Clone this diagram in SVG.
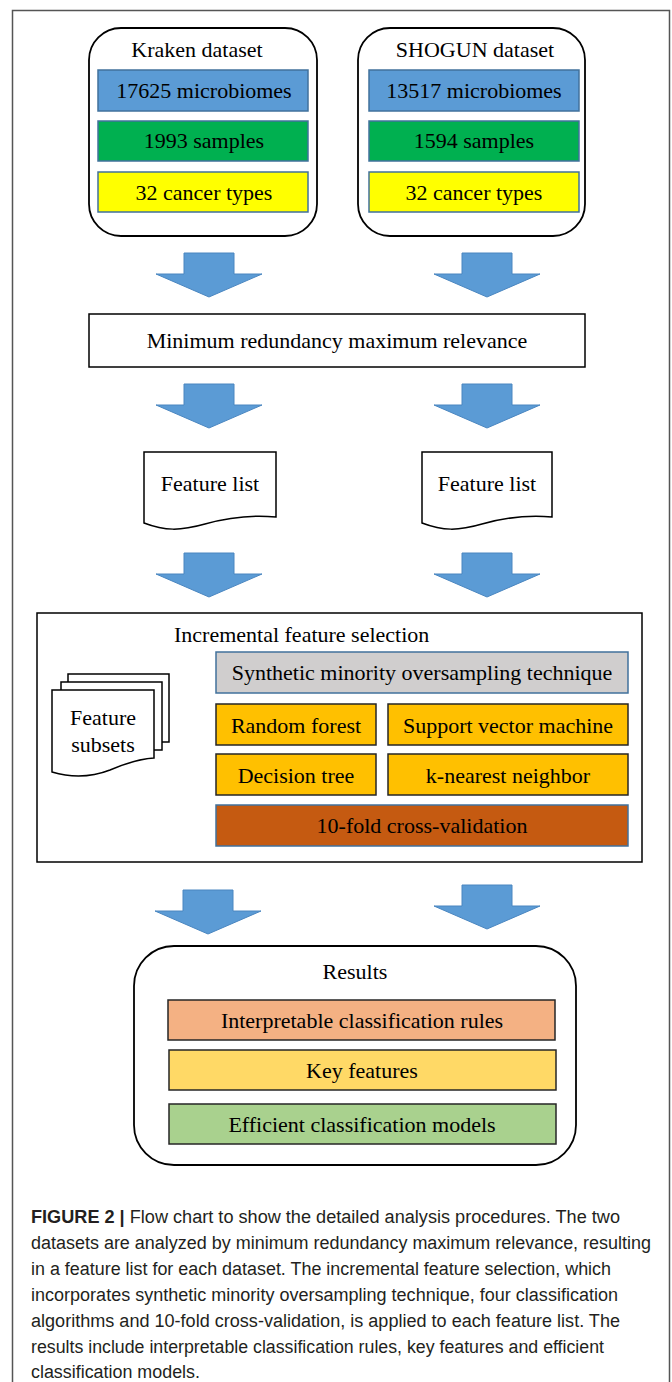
<svg xmlns="http://www.w3.org/2000/svg" width="672" height="1382" viewBox="0 0 672 1382">
<style>
.t{font-family:"Liberation Serif","Times New Roman",serif;font-size:22px;fill:#000;text-anchor:middle}
.ts{font-family:"Liberation Serif","Times New Roman",serif;font-size:22px;fill:#000}
.rb{fill:#fff;stroke:#000;stroke-width:1.8}
.bx{stroke:#41719c;stroke-width:1.5}
.ob{fill:#ffc000;stroke:#262626;stroke-width:1.5}
.rk{stroke:#262626;stroke-width:1.5}
.arr{fill:#5b9bd5;stroke:#4a86c0;stroke-width:1}
.doc{fill:#fff;stroke:#000;stroke-width:1.5}
.cap{font-family:"Liberation Sans",Arial,sans-serif;font-size:18px;fill:#231f20}
</style>
<defs>
<path id="arrow" d="M-25,0 H25 V21 H53 L0,44 L-53,21 H-25 Z"/>
</defs>
<rect width="672" height="1382" fill="#fff"/>
<path d="M12.5,1382 V10.5 H669.5 V1382" fill="none" stroke="#555" stroke-width="1.5"/>

<g id="kraken">
<rect class="rb" x="89" y="28" width="228" height="208" rx="32" ry="32"/>
<text class="t" x="197" y="57">Kraken dataset</text>
<rect class="bx" x="98" y="70" width="210" height="41" fill="#5b9bd5"/>
<text class="t" x="204" y="98">17625 microbiomes</text>
<rect class="bx" x="98" y="121" width="210" height="40" fill="#00b050"/>
<text class="t" x="204" y="148">1993 samples</text>
<rect class="bx" x="98" y="172" width="210" height="40" fill="#ffff00"/>
<text class="t" x="204" y="200">32 cancer types</text>
</g>

<g id="shogun">
<rect class="rb" x="358" y="28" width="227" height="208" rx="32" ry="32"/>
<text class="t" x="475" y="57">SHOGUN dataset</text>
<rect class="bx" x="369" y="70" width="210" height="41" fill="#5b9bd5"/>
<text class="t" x="474" y="98">13517 microbiomes</text>
<rect class="bx" x="369" y="121" width="210" height="40" fill="#00b050"/>
<text class="t" x="474" y="148">1594 samples</text>
<rect class="bx" x="369" y="172" width="210" height="40" fill="#ffff00"/>
<text class="t" x="474" y="200">32 cancer types</text>
</g>

<g id="mrmr">
<rect x="89" y="314" width="496" height="53" fill="#fff" stroke="#000" stroke-width="1.5"/>
<text class="t" x="337" y="348">Minimum redundancy maximum relevance</text>
</g>

<g id="featurelist1">
<path class="doc" d="M144,452 H276 V517 C255,515 230,517 205,524 C180,531 165,531 144,523 Z"/>
<text class="t" x="210" y="491">Feature list</text>
</g>
<g id="featurelist2">
<path class="doc" d="M422,452 H552 V517 C531,515 507,517 482,524 C458,531 443,531 422,523 Z"/>
<text class="t" x="487" y="491">Feature list</text>
</g>

<g id="ifs">
<rect x="37" y="613" width="605" height="249" fill="#fff" stroke="#000" stroke-width="1.5"/>
<text class="ts" x="174" y="642">Incremental feature selection</text>
<rect class="bx" x="216" y="652" width="412" height="41" fill="#d0cece"/>
<text class="t" x="422" y="680">Synthetic minority oversampling technique</text>
<rect class="ob" x="216" y="704" width="160" height="41"/>
<text class="t" x="296" y="733">Random forest</text>
<rect class="ob" x="388" y="704" width="240" height="41"/>
<text class="t" x="508" y="733">Support vector machine</text>
<rect class="ob" x="216" y="754" width="160" height="41"/>
<text class="t" x="296" y="783">Decision tree</text>
<rect class="ob" x="388" y="754" width="240" height="41"/>
<text class="t" x="508" y="783">k-nearest neighbor</text>
<rect class="bx" x="216" y="805" width="412" height="41" fill="#c55a11"/>
<text class="t" x="422" y="833">10-fold cross-validation</text>
</g>

<g id="featuresubsets">
<rect class="doc" x="68" y="674" width="101" height="68"/>
<rect class="doc" x="61" y="682" width="101" height="68"/>
<path class="doc" d="M52,690 H154 V758 C138,759 124,764 110,770 C92,777 72,778 52,772 Z"/>
<text class="t" x="103" y="725">Feature</text>
<text class="t" x="103" y="752">subsets</text>
</g>

<g id="results">
<rect class="rb" x="134" y="946" width="442" height="219" rx="40" ry="40"/>
<text class="t" x="355" y="979">Results</text>
<rect class="rk" x="168" y="1000" width="387" height="40" fill="#f4b183"/>
<text class="t" x="362" y="1028">Interpretable classification rules</text>
<rect class="rk" x="169" y="1050" width="387" height="40" fill="#ffd966"/>
<text class="t" x="362" y="1078">Key features</text>
<rect class="rk" x="169" y="1104" width="387" height="40" fill="#a9d18e"/>
<text class="t" x="362" y="1132">Efficient classification models</text>
</g>

<g id="connectors">
<use href="#arrow" class="arr" transform="translate(209,253)"/>
<use href="#arrow" class="arr" transform="translate(487,253)"/>
<use href="#arrow" class="arr" transform="translate(209,384)"/>
<use href="#arrow" class="arr" transform="translate(487,384)"/>
<use href="#arrow" class="arr" transform="translate(209,553)"/>
<use href="#arrow" class="arr" transform="translate(487,553)"/>
<use href="#arrow" class="arr" transform="translate(208,890)"/>
<use href="#arrow" class="arr" transform="translate(487,885)"/>
</g>

<g id="caption">
<text class="cap" x="31" y="1223" textLength="589" lengthAdjust="spacingAndGlyphs"><tspan font-weight="bold">FIGURE 2 |</tspan> Flow chart to show the detailed analysis procedures. The two</text>
<text class="cap" x="31" y="1249" textLength="620" lengthAdjust="spacingAndGlyphs">datasets are analyzed by minimum redundancy maximum relevance, resulting</text>
<text class="cap" x="31" y="1275" textLength="580" lengthAdjust="spacingAndGlyphs">in a feature list for each dataset. The incremental feature selection, which</text>
<text class="cap" x="31" y="1301" textLength="587" lengthAdjust="spacingAndGlyphs">incorporates synthetic minority oversampling technique, four classification</text>
<text class="cap" x="31" y="1327" textLength="589" lengthAdjust="spacingAndGlyphs">algorithms and 10-fold cross-validation, is applied to each feature list. The</text>
<text class="cap" x="31" y="1353" textLength="573" lengthAdjust="spacingAndGlyphs">results include interpretable classification rules, key features and efficient</text>
<text class="cap" x="31" y="1378" textLength="169" lengthAdjust="spacingAndGlyphs">classification models.</text>
</g>
</svg>
